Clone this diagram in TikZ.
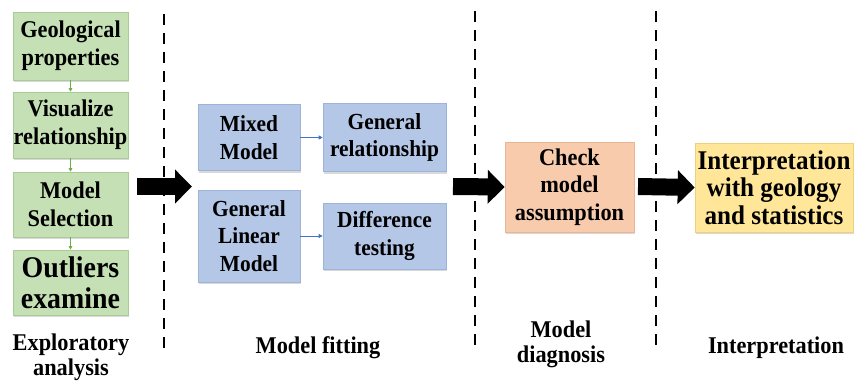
\documentclass[tikz,border=0pt]{standalone}
\usepackage{fontspec}
\setmainfont{Liberation Serif}[FakeStretch=0.93]
\usetikzlibrary{arrows.meta,shadows}

\definecolor{greenfill}{HTML}{C5E0B4}
\definecolor{greenline}{HTML}{A9CB97}
\definecolor{greenarrow}{HTML}{70AD47}
\definecolor{bluefill}{HTML}{B4C7E7}
\definecolor{blueline}{HTML}{9DB3DA}
\definecolor{bluearrow}{HTML}{4472C4}
\definecolor{orangefill}{HTML}{F8CBAD}
\definecolor{orangeline}{HTML}{E9B595}
\definecolor{yellowfill}{HTML}{FFE699}
\definecolor{yellowline}{HTML}{EDD27E}

\tikzset{
  box/.style={inner ysep=2pt, inner xsep=-6pt, align=center,
    drop shadow={shadow xshift=1.2pt, shadow yshift=-2pt, opacity=0.25, fill=black!60}},
  greenbox/.style={box, fill=greenfill, draw=greenline, line width=0.6pt,
    minimum width=115pt, font=\fontsize{24}{28}\selectfont\bfseries},
  bluebox/.style={box, fill=bluefill, draw=blueline, line width=0.6pt,
    font=\fontsize{23}{27.5}\selectfont\bfseries},
  orangebox/.style={box, fill=orangefill, draw=orangeline, line width=0.6pt,
    font=\fontsize{24}{27.5}\selectfont\bfseries},
  yellowbox/.style={box, fill=yellowfill, draw=yellowline, line width=0.6pt,
    font=\fontsize{27}{27.5}\selectfont\bfseries},
  smallgreen/.style={draw=greenarrow, line width=0.7pt, -{Triangle[length=3.5pt,width=3.5pt]}},
  smallblue/.style={draw=bluearrow, line width=0.8pt, -{Triangle[length=4pt,width=4pt]}},
  bigarrow/.style={line width=17pt, -{Triangle[length=17pt,width=33pt]}},
  divider/.style={line width=2.3pt, dash pattern=on 11pt off 8pt},
  phase/.style={align=center, font=\fontsize{24}{25}\selectfont\bfseries}
}

\begin{document}
\begin{tikzpicture}[x=1pt,y=-1pt]
  \useasboundingbox (0,0) rectangle (856,381);

  % exploratory analysis column
  \node[greenbox, minimum height=68pt] (geo) at (70.5,46) {Geological\\properties};
  \node[greenbox, minimum height=66pt] (vis) at (70.5,125) {Visualize\\relationship};
  \node[greenbox, minimum height=65pt] (sel) at (70.5,204.5) {Model\\Selection};
  \node[greenbox, minimum height=65pt, font=\fontsize{30}{31}\selectfont\bfseries] (out) at (70.5,282.5) {Outliers\\examine};
  \draw[smallgreen] (geo) -- (vis);
  \draw[smallgreen] (vis) -- (sel);
  \draw[smallgreen] (sel) -- (out);

  % model fitting column
  \node[bluebox, minimum width=102pt, minimum height=66pt] (mixed) at (249,137.5) {Mixed\\Model};
  \node[bluebox, minimum width=123pt, minimum height=68pt] (genrel) at (384.5,137.5) {General\\relationship};
  \node[bluebox, minimum width=102pt, minimum height=92pt] (glm) at (249,236) {General\\Linear\\Model};
  \node[bluebox, minimum width=123pt, minimum height=66pt] (diff) at (384.5,236) {Difference\\testing};
  \draw[smallblue] (mixed) -- (genrel);
  \draw[smallblue] (glm) -- (diff);

  % diagnosis and interpretation
  \node[orangebox, minimum width=129pt, minimum height=90pt] (check) at (569.5,187) {Check\\model\\assumption};
  \node[yellowbox, minimum width=158pt, minimum height=89pt] (interp) at (774,187.5) {Interpretation\\with geology\\and statistics};

  % phase dividers
  \coordinate (d1t) at (164,14);  \coordinate (d1b) at (164,352);
  \coordinate (d2t) at (475,11);  \coordinate (d2b) at (475,347);
  \coordinate (d3t) at (656,11);  \coordinate (d3b) at (656,347);
  \draw[divider] (d1t) -- (d1b);
  \draw[divider] (d2t) -- (d2b);
  \draw[divider] (d3t) -- (d3b);

  % transitions between phases
  \coordinate (a1s) at (137,186.5);
  \coordinate (a1e) at (192,186.5);
  \draw[bigarrow] (a1s) -- (a1e);
  \coordinate (a2s) at (453,186.5);
  \draw[bigarrow] (a2s) -- (check.west);
  \coordinate (a3s) at (638,186.5);
  \draw[bigarrow] (a3s) -- (interp.west);

  % phase labels
  \node[phase] (lab1) at (71,357.5) {Exploratory\\analysis};
  \node[phase] (lab2) at (318,348) {Model fitting};
  \node[phase] (lab3) at (561,344) {Model\\diagnosis};
  \node[phase] (lab4) at (776,348) {Interpretation};
\end{tikzpicture}
\end{document}
